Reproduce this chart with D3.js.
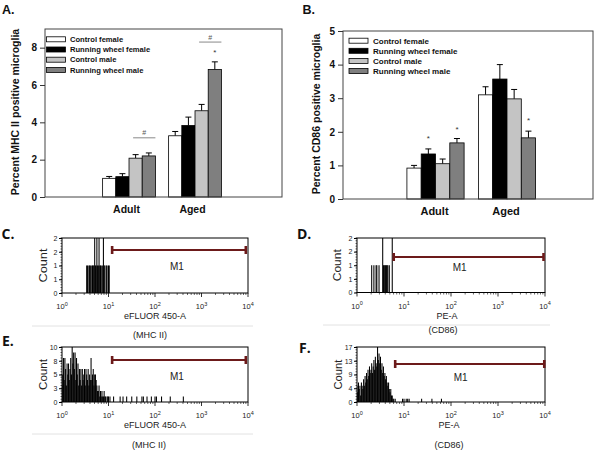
<!DOCTYPE html>
<html><head><meta charset="utf-8">
<script src="https://cdn.jsdelivr.net/npm/d3@7"></script>
<style>body{margin:0;background:#fff}svg{display:block}</style>
</head><body>
<svg id="fig" width="600" height="451"></svg>
<script>
// ---------------- data ----------------
const groups = ["Adult", "Aged"];
const seriesNames = ["Control female", "Running wheel female", "Control male", "Running wheel male"];
const mhcMeans = [[1.00, 1.09, 2.08, 2.20], [3.28, 3.83, 4.62, 6.83]];
const mhcErrs  = [[0.10, 0.16, 0.19, 0.16], [0.23, 0.45, 0.34, 0.41]];
const mhcTicks = [0, 2, 4, 6, 8];
const mhcBrackets = [{group: 0, from: 2, to: 3, y: 3.17, label: "#"}, {group: 1, from: 2, to: 3, y: 8.30, label: "#"}];
const mhcStars = [{group: 1, series: 3, y: 7.87}];
const cd86Means = [[0.92, 1.34, 1.05, 1.67], [3.10, 3.57, 2.98, 1.82]];
const cd86Errs  = [[0.08, 0.15, 0.14, 0.13], [0.24, 0.43, 0.28, 0.20]];
const cd86Ticks = [0, 1, 2, 3, 4, 5];
const cd86Brackets = [];
const cd86Stars = [{group: 0, series: 1, y: 1.875}, {group: 0, series: 3, y: 2.14}, {group: 1, series: 3, y: 2.41}];

// flow histograms: counts per channel (256 channels over 4 decades)
const decadeLabels = ["0", "1", "2", "3", "4"];
const cStart = 34;
const cCounts = [1,1,0,1,1,1,0,1,1,1,1,2,1,1,2,1,1,2,1,1,1,0,1,2,1,1,0,1,1,0,1,1];
const cTail = [];
const cTickLabels = ["0", "1", "1", "2", "2"];
const cGate = [69, 253];
const dStart = 20;
const dCounts = [1,0,0,1,0,0,1,1,0,0,1,0,0,0,0,2,1,1,1,1,1,1,1,0,1,0,0,0,2];
const dTail = [];
const dTickLabels = ["0", "1", "1", "2", "2"];
const dGate = [50, 254];
const eStart = 0;
const eCounts = [3,5,8,4, 8,6,3,7, 5,7,4,6, 8,5,10,7, 9,6,9,4, 8,5,7,3, 6,4,6,3, 6,4,5,6, 3,6,5,4, 6,3,5,4, 8,4,5,6, 3,5,5,4, 3,2,2,3, 1,2,1,2, 1,1,2,1, 1,0,1,1, 1,0,1,0];
const eTail = [[71,1],[80,1],[84,1],[89,1],[96,1],[103,1],[110,1],[112,1],[117,1],[123,1],[128,1],[130,1],[137,1],[149,1],[167,1]];
const eTickLabels = ["0", "3", "5", "8", "10"];
const eGate = [69, 253];
const fStart = 0;
const fCounts = [5,3,6,4, 5,2,6,5, 4,7,5,8, 6,9,7,10, 8,11,9,10, 12,9,11,13, 10,14,12,11, 17,13,15,12, 14,10,12,9, 11,8,9,7, 8,6,5,6, 4,3,4,2, 2,1,1,0, 1,0,0,0];
const fTail = [[62,1],[64,1],[67,1],[69,1],[71,1],[88,1],[102,1],[115,1]];
const fTickLabels = ["0", "4", "9", "13", "17"];
const fGate = [52, 255];

// ---------------- styles ----------------
const FONT = "'Liberation Sans', Arial, sans-serif";
const seriesFill = ["#ffffff", "#000000", "#c4c4c4", "#7f7f7f"];
const gateColor = "#6c1a1a";

const svg = d3.select("#fig");
svg.append("rect").attr("width", 600).attr("height", 451).attr("fill", "#fff");

function drawBars(o) {
  const g = svg.append("g").attr("font-family", FONT);
  const y = d3.scaleLinear().domain([0, o.yMax]).range([o.bottom, o.top]);
  const x = d3.scaleLinear().domain(o.xDomain).range([o.left, o.right]);
  const bw = x(0.2) - x(0);
  const cx = (gi, si) => x(gi + (si - 1.5) * 0.2);
  const rows = groups.flatMap((gn, gi) => seriesNames.map((sn, si) => ({gi, si, v: o.means[gi][si], e: o.errs[gi][si]})));

  const eb = g.append("g").attr("stroke", "#000").attr("stroke-width", 1);
  eb.selectAll("line.v").data(rows).join("line").attr("class", "v")
    .attr("x1", d => cx(d.gi, d.si)).attr("x2", d => cx(d.gi, d.si))
    .attr("y1", d => y(d.v)).attr("y2", d => y(d.v + d.e));
  eb.selectAll("line.c").data(rows).join("line").attr("class", "c")
    .attr("x1", d => cx(d.gi, d.si) - 3).attr("x2", d => cx(d.gi, d.si) + 3)
    .attr("y1", d => y(d.v + d.e)).attr("y2", d => y(d.v + d.e));
  g.append("g").selectAll("rect").data(rows).join("rect")
    .attr("x", d => cx(d.gi, d.si) - bw / 2).attr("width", bw)
    .attr("y", d => y(d.v)).attr("height", d => y(0) - y(d.v))
    .attr("fill", d => seriesFill[d.si]).attr("stroke", "#000").attr("stroke-width", 0.8);

  g.append("rect").attr("x", o.left).attr("y", o.top).attr("width", o.right - o.left).attr("height", o.bottom - o.top)
    .attr("fill", "none").attr("stroke", "#444").attr("stroke-width", 1);
  const ax = g.append("g").attr("transform", `translate(${o.left},0)`)
    .call(d3.axisLeft(y).tickValues(o.ticks).tickSize(5).tickPadding(3).tickFormat(d3.format("d")));
  ax.select(".domain").remove();
  ax.selectAll("line").attr("stroke", "#333");
  ax.selectAll("text").attr("font-size", 10).attr("font-weight", "bold").attr("font-family", FONT).attr("fill", "#111");
  g.append("text").attr("transform", `translate(${o.ylabelX},${o.ylabelY}) rotate(-90)`)
    .attr("text-anchor", "middle").attr("font-size", 10.5).attr("font-weight", "bold").attr("fill", "#111").text(o.ylabel);
  g.selectAll("text.cat").data(groups).join("text").attr("class", "cat")
    .attr("x", (d, i) => x(i) + o.labelDx).attr("y", o.labelY).attr("text-anchor", "middle")
    .attr("font-size", o.labelFs).attr("font-weight", "bold").attr("fill", "#111").text(d => d);
  const lg = g.append("g");
  seriesNames.forEach((s, i) => {
    const yy = o.leg.y0 + i * o.leg.step;
    lg.append("rect").attr("x", o.leg.rectX).attr("y", yy - 2.5).attr("width", 19).attr("height", 5)
      .attr("fill", seriesFill[i]).attr("stroke", "#000").attr("stroke-width", 0.8);
    lg.append("text").attr("x", o.leg.textX).attr("y", yy + o.leg.fs * 0.36).attr("font-size", o.leg.fs)
      .attr("font-weight", "bold").attr("fill", "#111").text(s);
  });
  o.brackets.forEach(b => {
    const x1 = cx(b.group, b.from) - 2.5, x2 = cx(b.group, b.to) + bw / 2;
    g.append("line").attr("x1", x1).attr("x2", x2).attr("y1", y(b.y)).attr("y2", y(b.y)).attr("stroke", "#888").attr("stroke-width", 1);
    g.append("text").attr("x", (x1 + x2) / 2).attr("y", y(b.y) - 5 + 7 * 0.36).attr("text-anchor", "middle")
      .attr("font-size", 7).attr("fill", "#555").text(b.label);
  });
  o.stars.forEach(s => {
    g.append("text").attr("x", cx(s.group, s.series)).attr("y", y(s.y) + 8 * 0.57).attr("text-anchor", "middle")
      .attr("font-size", 8).attr("fill", "#333").text("*");
  });
}

function drawHist(o) {
  const g = svg.append("g").attr("font-family", FONT);
  const x = d3.scaleLinear().domain([0, 256]).range([o.left, o.right]);
  const y = d3.scaleLinear().domain([0, o.yMax]).range([o.bottom, o.top]);
  const id = "clip" + o.name;
  svg.append("clipPath").attr("id", id).append("rect")
    .attr("x", o.left).attr("y", o.top).attr("width", o.right - o.left).attr("height", o.bottom - o.top);
  const pts = o.counts.map((c, i) => ({ch: o.start + i, c})).concat(o.tail.map(([ch, c]) => ({ch, c}))).filter(d => d.c > 0);
  g.append("g").attr("clip-path", `url(#${id})`).selectAll("line").data(pts).join("line")
    .attr("x1", d => x(d.ch)).attr("x2", d => x(d.ch)).attr("y1", y(0)).attr("y2", d => y(d.c))
    .attr("stroke", "#000").attr("stroke-width", 1.05);
  g.append("rect").attr("x", o.left).attr("y", o.top).attr("width", o.right - o.left).attr("height", o.bottom - o.top)
    .attr("fill", "none").attr("stroke", "#000").attr("stroke-width", 1);
  const yt = d3.range(5).map(i => o.yMax * i / 4);
  const ya = g.append("g").attr("transform", `translate(${o.left},0)`)
    .call(d3.axisLeft(y).tickValues(yt).tickSize(3).tickPadding(1.5).tickFormat((d, i) => o.yLabels[i]));
  ya.select(".domain").remove();
  ya.selectAll("text").attr("font-size", 7).attr("font-family", FONT).attr("fill", "#222");
  const ym = d3.range(21).map(i => o.yMax * i / 20);
  g.append("g").selectAll("line").data(ym).join("line")
    .attr("x1", o.left - 1.5).attr("x2", o.left).attr("y1", d => y(d)).attr("y2", d => y(d)).attr("stroke", "#000").attr("stroke-width", 0.6);
  const major = decadeLabels.map((l, i) => i * 64);
  const minor = d3.range(4).flatMap(d => d3.range(2, 10).map(k => (d + Math.log10(k)) * 64));
  g.append("g").selectAll("line").data(major).join("line")
    .attr("x1", d => x(d)).attr("x2", d => x(d)).attr("y1", o.bottom).attr("y2", o.bottom + 4).attr("stroke", "#000").attr("stroke-width", 0.8);
  g.append("g").selectAll("line").data(minor).join("line")
    .attr("x1", d => x(d)).attr("x2", d => x(d)).attr("y1", o.bottom).attr("y2", o.bottom + 2).attr("stroke", "#000").attr("stroke-width", 0.6);
  const xl = g.append("g").selectAll("text").data(decadeLabels).join("text")
    .attr("x", (d, i) => x(i * 64)).attr("y", o.bottom + 16).attr("text-anchor", "middle")
    .attr("font-size", 7.5).attr("fill", "#222");
  xl.append("tspan").text("10");
  xl.append("tspan").attr("dy", -3.5).attr("font-size", 5.5).text(d => d);
  g.append("text").attr("transform", `translate(${o.countX},${(o.top + o.bottom) / 2}) rotate(-90)`)
    .attr("text-anchor", "middle").attr("font-size", 10).attr("fill", "#222")
    .attr("textLength", o.countLen).attr("lengthAdjust", "spacingAndGlyphs").text("Count");
  g.append("text").attr("x", o.xlabelX).attr("y", o.bottom + 26).attr("text-anchor", "middle")
    .attr("font-size", 9).attr("fill", "#222").text(o.xlabel);
  g.append("text").attr("x", o.subX).attr("y", o.subY).attr("text-anchor", "middle")
    .attr("font-size", 9).attr("fill", "#222").text(o.sub);
  const gy = o.top + o.gateDy;
  const gg = g.append("g").attr("fill", gateColor);
  g.append("line").attr("x1", x(o.gate[0])).attr("x2", x(o.gate[1])).attr("y1", gy).attr("y2", gy)
    .attr("stroke", gateColor).attr("stroke-width", 2.2);
  gg.selectAll("rect").data(o.gate).join("rect")
    .attr("x", d => x(d) - 1.3).attr("y", gy - 4).attr("width", 2.6).attr("height", 8);
  g.append("text").attr("x", (x(o.gate[0]) + x(o.gate[1])) / 2 + o.m1Dx).attr("y", gy + o.m1Dy)
    .attr("text-anchor", "middle").attr("font-size", 10).attr("fill", "#222").text("M1");
  if (o.sep) {
    svg.append("line").attr("x1", o.sep[0]).attr("x2", o.sep[1]).attr("y1", o.sep[2]).attr("y2", o.sep[2])
      .attr("stroke", "#e2e2e2").attr("stroke-width", 1);
  }
}

drawBars({left: 45, right: 282, top: 29, bottom: 197, yMax: 9, ticks: mhcTicks, xDomain: [-1.273, 2.318],
  means: mhcMeans, errs: mhcErrs, brackets: mhcBrackets, stars: mhcStars,
  leg: {rectX: 46.5, textX: 70, y0: 39.3, step: 10.2, fs: 7.6}, labelY: 213, labelDx: -2.5, labelFs: 10.5,
  ylabel: "Percent MHC II positive microglia", ylabelX: 19, ylabelY: 112});
drawBars({left: 343, right: 593, top: 31, bottom: 199, yMax: 5, ticks: cd86Ticks, xDomain: [-1.294, 2.203],
  means: cd86Means, errs: cd86Errs, brackets: cd86Brackets, stars: cd86Stars,
  leg: {rectX: 349, textX: 373, y0: 40.7, step: 10.1, fs: 8}, labelY: 215, labelDx: -1, labelFs: 11,
  ylabel: "Percent CD86 positive microglia", ylabelX: 319.5, ylabelY: 114});

drawHist({name: "C", left: 62, right: 248, top: 238, bottom: 293, yMax: 2, yLabels: cTickLabels,
  start: cStart, counts: cCounts, tail: cTail, gate: cGate, gateDy: 12, m1Dx: -2, m1Dy: 20,
  countX: 46.5, countLen: 34, xlabel: "eFLUOR 450-A", xlabelX: 155, sub: "(MHC II)", subX: 150, subY: 338, sep: [32, 253, 326]});
drawHist({name: "D", left: 357, right: 545, top: 238, bottom: 292.5, yMax: 2, yLabels: dTickLabels,
  start: dStart, counts: dCounts, tail: dTail, gate: dGate, gateDy: 19, m1Dx: -9, m1Dy: 14,
  countX: 340.5, countLen: 32, xlabel: "PE-A", xlabelX: 447, sub: "(CD86)", subX: 443, subY: 333, sep: [323, 550, 325]});
drawHist({name: "E", left: 62, right: 248, top: 347, bottom: 402, yMax: 10, yLabels: eTickLabels,
  start: eStart, counts: eCounts, tail: eTail, gate: eGate, gateDy: 13, m1Dx: -2, m1Dy: 20,
  countX: 46.5, countLen: 31, xlabel: "eFLUOR 450-A", xlabelX: 155, sub: "(MHC II)", subX: 149, subY: 448, sep: [32, 253, 434]});
drawHist({name: "F", left: 357, right: 545, top: 347, bottom: 402, yMax: 17, yLabels: fTickLabels,
  start: fStart, counts: fCounts, tail: fTail, gate: fGate, gateDy: 17, m1Dx: -9, m1Dy: 17,
  countX: 341.5, countLen: 30, xlabel: "PE-A", xlabelX: 449, sub: "(CD86)", subX: 449, subY: 448, sep: null});

const letters = [
  {t: "A.", x: 2, y: 13.5, f: "'Liberation Sans', Arial, sans-serif", s: 12.5},
  {t: "B.", x: 302.5, y: 13.5, f: "'Liberation Sans', Arial, sans-serif", s: 12.5},
  {t: "C.", x: 1.5, y: 238.5, f: "'Open Sans', sans-serif", s: 14},
  {t: "D.", x: 297, y: 238.5, f: "'Open Sans', sans-serif", s: 14},
  {t: "E.", x: 2, y: 345.5, f: "'Open Sans', sans-serif", s: 14},
  {t: "F.", x: 299, y: 352.5, f: "'Open Sans', sans-serif", s: 14}
];
svg.append("g").selectAll("text").data(letters).join("text")
  .attr("x", d => d.x).attr("y", d => d.y).attr("font-family", d => d.f).attr("font-size", d => d.s)
  .attr("font-weight", "bold").attr("fill", "#111").text(d => d.t);
</script>
</body></html>
